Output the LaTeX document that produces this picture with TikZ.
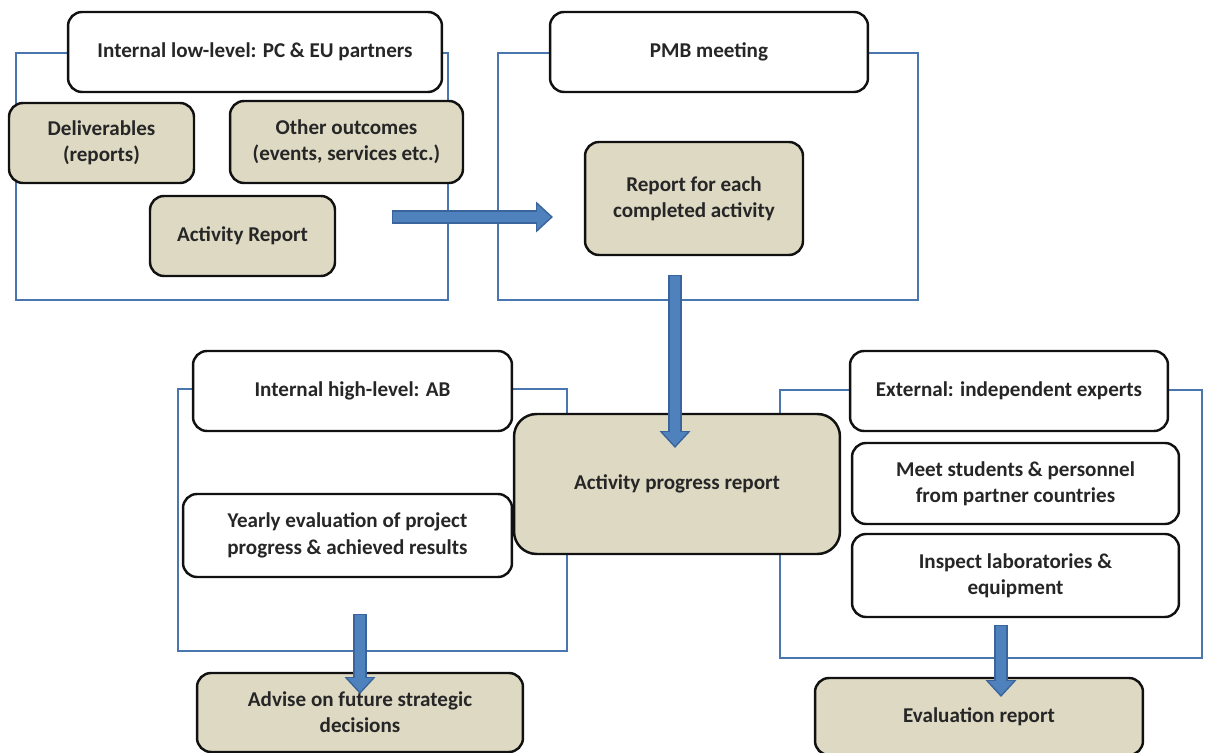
\documentclass[tikz,border=0pt]{standalone}
\usepackage{fontspec}
\setmainfont{Carlito}
\usetikzlibrary{arrows.meta}
\definecolor{boxline}{HTML}{111111}
\definecolor{tanfill}{HTML}{DDD9C3}
\definecolor{groupblue}{HTML}{4A76B0}
\definecolor{arrowfill}{HTML}{4F81BD}
\definecolor{arrowedge}{HTML}{3A659C}
\definecolor{inktext}{HTML}{262626}

\begin{document}
\begin{tikzpicture}[
    x=0.02cm, y=-0.02cm,
    every node/.style={font=\bfseries\fontsize{12}{15}\selectfont, text=inktext, align=center},
    group/.style={rectangle, draw=groupblue, line width=1.1pt, inner sep=0pt},
    plain/.style={rectangle, rounded corners=0.28cm, draw=boxline, fill=white, line width=1.4pt},
    tan/.style={plain, fill=tanfill},
    flowedge/.style={draw=arrowedge, line width=7.6pt, -{Triangle[width=17pt, length=9.6pt]}},
    flowbody/.style={draw=arrowfill, line width=5.8pt, shorten <=0.8pt, shorten >=1.3pt,
        -{Triangle[width=13.6pt, length=7.7pt]}},
]
\useasboundingbox (0,0) rectangle (1208,753);

% ============================================================ the four groups
\node[group, minimum width=8.64cm, minimum height=4.94cm] (grpLow)  at (232,176.5) {};
\node[group, minimum width=8.40cm, minimum height=4.94cm] (grpPMB)  at (708,176.5) {};
\node[group, minimum width=7.78cm, minimum height=5.24cm] (grpHigh) at (372.5,520) {};
\node[group, minimum width=8.44cm, minimum height=5.36cm] (grpExt)  at (991,524) {};

% ============================================================ internal low-level
\node[plain, minimum width=7.48cm, minimum height=1.60cm] (lowlvl) at (255,52)
    {Internal low-level: PC \& EU partners};
\node[tan, minimum width=3.70cm, minimum height=1.60cm] (deliv) at (101.5,143)
    {Deliverables\\(reports)};
\node[tan, minimum width=4.66cm, minimum height=1.64cm] (other) at (346.5,142)
    {Other outcomes\\(events, services etc.)};
\node[tan, minimum width=3.70cm, minimum height=1.60cm] (actrep) at (242.5,236)
    {Activity Report};

% ============================================================ PMB
\node[plain, minimum width=6.36cm, minimum height=1.60cm] (pmb) at (709,52) {PMB meeting};
\node[tan, minimum width=4.36cm, minimum height=2.26cm] (repeach) at (694,198.5)
    {Report for each\\completed activity};

% ============================================================ internal high-level
\node[plain, minimum width=6.38cm, minimum height=1.60cm] (highlvl) at (352.5,391)
    {Internal high-level: AB};
\node[plain, minimum width=6.58cm, minimum height=1.66cm] (yearly) at (347.5,535.5)
    {Yearly evaluation of project\\progress \& achieved results};
\node[tan, minimum width=6.52cm, minimum height=1.58cm] (advise) at (360,712.5)
    {Advise on future strategic\\decisions};

% ============================================================ progress report
\node[tan, rounded corners=0.45cm, minimum width=6.52cm, minimum height=2.80cm] (progress) at (677,484)
    {Activity progress report};

% ============================================================ external
\node[plain, minimum width=6.36cm, minimum height=1.60cm] (external) at (1009,391)
    {External: independent experts};
\node[plain, minimum width=6.54cm, minimum height=1.62cm] (meet) at (1015.5,483.5)
    {Meet students \& personnel\\from partner countries};
\node[plain, minimum width=6.54cm, minimum height=1.66cm] (inspect) at (1015.5,575.5)
    {Inspect laboratories \&\\equipment};
\node[tan, minimum width=6.56cm, minimum height=1.54cm] (evalrep) at (979,716.5)
    {Evaluation report};

% ============================================================ block arrows
\coordinate (lowOut)  at (392,217);
\coordinate (pmbIn)   at (553,217);
\coordinate (pmbOut)  at (675,275);
\coordinate (progIn)  at (675,448);
\coordinate (highOut) at (360,614);
\coordinate (advIn)   at (360,694);
\coordinate (extOut)  at (1001,625);
\coordinate (evalIn)  at (1001,697);
\foreach \a/\b in {lowOut/pmbIn, pmbOut/progIn, highOut/advIn, extOut/evalIn}{
    \draw[flowedge] (\a) -- (\b);
    \draw[flowbody] (\a) -- (\b);
}

\end{tikzpicture}
\end{document}
